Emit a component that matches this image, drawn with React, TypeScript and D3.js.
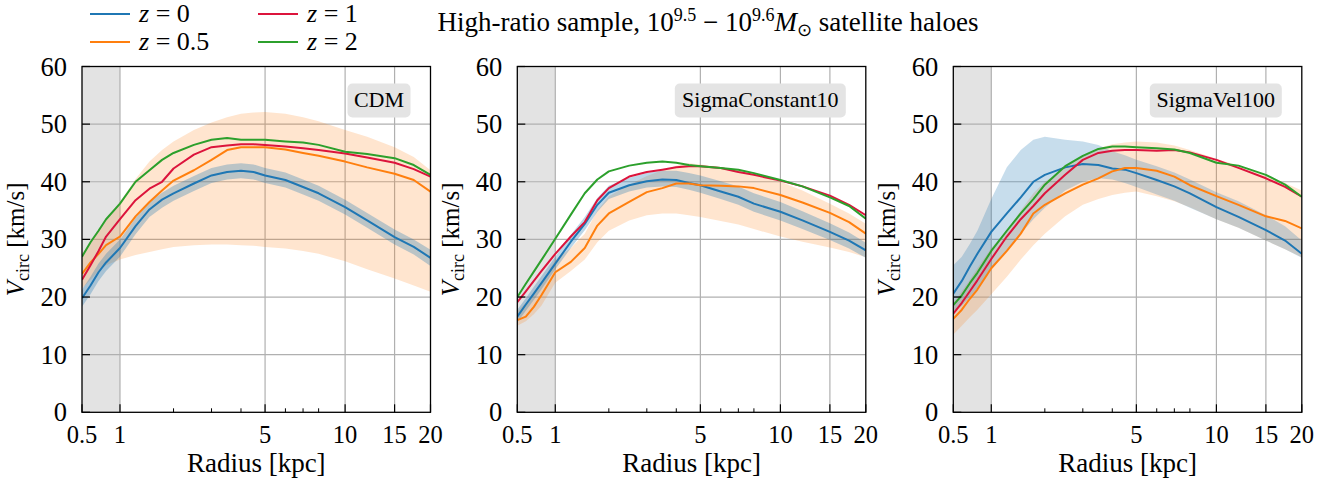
import React from 'react';
import * as d3 from 'd3';

// ---------- data ----------
const RADII = [0.5, 0.6, 0.7, 0.8, 1, 1.25, 1.5, 1.75, 2, 2.5, 3, 3.5, 4, 4.5, 5, 6, 7, 8, 10, 12, 15, 17.5, 20];
const X_MAJOR = [0.5, 1, 5, 10, 15, 20];
const X_MINOR = [2, 3, 4, 6, 7, 8];
const X_GRID = [1, 5, 10, 15];
const Y_TICKS = [0, 10, 20, 30, 40, 50, 60];
const Y_GRID = [10, 20, 30, 40, 50];
const RESOLUTION_LIMIT = 1;

const LEGEND_LABELS = ['0', '0.5', '1', '2'];

// CDM
const CDM_Z0 = [19.8, 22, 24.3, 26, 28.5, 32.3, 35.2, 36.9, 38, 39.7, 41.1, 41.7, 41.9, 41.7, 41.1, 40.3, 39.1, 38, 35.6, 33.3, 30.4, 28.7, 26.8];
const CDM_Z05 = [24, 26, 27.5, 29, 30.5, 34, 36.5, 38.5, 40.2, 42, 43.8, 45.5, 46, 46, 46, 45.6, 45, 44.5, 43.5, 42.5, 41.4, 40.3, 38.3];
const CDM_Z1 = [23, 25.5, 28, 30.5, 33.5, 36.8, 38.8, 40, 42.3, 44.7, 46, 46.3, 46.5, 46.5, 46.4, 46.1, 45.8, 45.5, 44.9, 44.2, 43.3, 42.2, 40.9];
const CDM_Z2 = [27, 29.5, 31.5, 33.5, 36.2, 40, 42, 43.8, 45, 46.4, 47.3, 47.6, 47.3, 47.3, 47.3, 47, 46.8, 46.4, 45.2, 44.8, 44.1, 42.9, 41.2];
const CDM_Z0_HI = [21.3, 23.5, 25.8, 27.5, 30, 33.7, 36.5, 38.1, 39.3, 41, 42.4, 43, 43.2, 43, 42.4, 41.6, 40.4, 39.3, 36.9, 34.6, 31.7, 30, 28.2];
const CDM_Z0_LO = [18.3, 20.5, 22.8, 24.5, 27, 30.9, 33.9, 35.5, 36.7, 38.4, 39.8, 40.4, 40.6, 40.4, 39.8, 39, 37.8, 36.7, 34.3, 32, 29.1, 27.4, 25.4];
const CDM_Z05_HI = [27.5, 29.5, 31.5, 33.5, 36.5, 40.5, 43.5, 45.5, 47, 49, 50.3, 51.2, 51.8, 52, 52.1, 51.8, 51.2, 50.5, 49, 47.8, 46, 44.3, 42];
const CDM_Z05_LO = [21.5, 23, 24.5, 25.5, 26.5, 27.3, 27.8, 28.3, 28.7, 29, 29.1, 29.1, 29, 28.9, 28.7, 28.4, 28, 27.5, 26.2, 24.8, 23.2, 22, 20.9];

// SigmaConstant10
const SC_Z0 = [16.6, 18.7, 20.6, 22.4, 25.8, 29.6, 32.7, 36, 38.1, 39.4, 40.1, 40.4, 40.3, 39.8, 39.4, 38.3, 37.4, 36.2, 34.8, 33.3, 31.3, 29.8, 28.1];
const SC_Z05 = [16, 16.6, 18.3, 20.3, 24.3, 26.1, 28.5, 32.4, 34.5, 36.5, 38.2, 38.9, 39.7, 39.7, 39.4, 39.3, 39.2, 38.9, 37.7, 36.4, 34.6, 33, 31];
const SC_Z1 = [19.1, 21, 22.8, 24.5, 27.5, 30.5, 33, 36.8, 38.9, 40.9, 41.7, 42.1, 42.5, 42.7, 42.7, 42.4, 41.7, 41.2, 40.2, 39.2, 37.6, 36, 34.2];
const SC_Z2 = [20, 22.3, 24.4, 26.4, 30.1, 34.3, 38, 40.4, 41.8, 42.8, 43.3, 43.5, 43.3, 42.9, 42.7, 42.4, 42.1, 41.5, 40.3, 39.2, 37.3, 35.8, 33.6];
const SC_Z0_HI = [17.8, 19.8, 21.8, 23.6, 27, 30.8, 33.9, 37.2, 39.3, 40.7, 41.5, 41.9, 41.9, 41.5, 41.1, 40.1, 39.2, 38, 36.5, 34.9, 32.8, 31.2, 29.4];
const SC_Z0_LO = [15.6, 17.6, 19.5, 21.3, 24.8, 28.5, 31.6, 34.8, 37, 38.3, 39, 39.2, 39.1, 38.6, 38.1, 37, 36, 34.8, 33.3, 31.8, 29.9, 28.4, 26.8];
const SC_Z05_HI = [17.5, 19, 20.5, 22.5, 26.5, 28.5, 31, 35, 37.5, 39.5, 41, 42, 42.8, 43.2, 43, 42.5, 42, 41.3, 40, 38.5, 36.2, 34.5, 32.7];
const SC_Z05_LO = [15, 15.8, 17, 18.5, 22.5, 24.5, 26.5, 29.5, 31.5, 33.3, 34.2, 34.5, 34.5, 34.2, 33.9, 33.2, 32.6, 31.8, 30.5, 29.6, 28.6, 27.8, 26.9];

// SigmaVel100
const SV_Z0 = [20.6, 22.8, 25.3, 27.5, 31.3, 34.5, 37.3, 40, 41.2, 42.5, 43.1, 42.9, 42.3, 42.1, 41.5, 40.3, 39.2, 38, 35.6, 33.9, 31.6, 29.8, 27.5];
const SV_Z05 = [16.2, 17.8, 19.7, 21.3, 25, 28, 31, 34.5, 36, 38, 39.5, 40.6, 41.8, 42.4, 42.4, 41.9, 40.9, 39.4, 37.5, 36, 34, 33.2, 31.9];
const SV_Z1 = [17.1, 19, 21, 22.9, 26.6, 30.5, 33.5, 35.8, 38, 41.2, 43.8, 45, 45.4, 45.5, 45.5, 45.4, 45.5, 45.1, 43.8, 42.4, 40.6, 39.1, 37.4];
const SV_Z2 = [18.6, 20.3, 22.4, 24.2, 28, 31.5, 34.5, 37, 39.5, 42.7, 44.5, 45.7, 46.1, 46.1, 46, 45.8, 45.6, 45, 43.3, 42.8, 41.2, 39.5, 37.4];
const SV_Z0_HI = [25.5, 27, 29.2, 31.5, 37, 42.5, 45.5, 47.3, 47.8, 47.3, 47, 46.4, 45.3, 44.6, 43.8, 42.7, 41.6, 40.4, 38.2, 36.6, 34.2, 32.3, 29.8];
const SV_Z0_LO = [17.5, 18.5, 20, 21.5, 25, 28, 31, 33.5, 35.5, 38.5, 40, 40.6, 40.4, 39.8, 39.1, 37.8, 36.7, 35.5, 33.5, 32, 29.8, 28.3, 26.8];
const SV_Z05_HI = [19, 21, 23, 25, 28.5, 31.5, 35, 38, 40, 42.5, 44.5, 45.8, 46.5, 46.8, 47, 46.8, 46.3, 45.5, 44, 42.8, 41, 39.8, 38.5];
const SV_Z05_LO = [13.5, 15, 16.5, 17.8, 20.5, 23.5, 26.5, 29, 31, 34, 36, 37, 37.7, 38.1, 38.3, 37.5, 36.6, 35.6, 33.5, 32, 29.8, 28.3, 26.9];

const COLORS = ['#1f77b4', '#ff7f0e', '#dc143c', '#2ca02c'];

const PANELS = [
  { name: 'CDM', left: 82, boxW: 63, lines: [CDM_Z0, CDM_Z05, CDM_Z1, CDM_Z2], z0Band: [CDM_Z0_LO, CDM_Z0_HI], z05Band: [CDM_Z05_LO, CDM_Z05_HI], z0Alpha: 0.3 },
  { name: 'SigmaConstant10', left: 517.3, boxW: 171, lines: [SC_Z0, SC_Z05, SC_Z1, SC_Z2], z0Band: [SC_Z0_LO, SC_Z0_HI], z05Band: [SC_Z05_LO, SC_Z05_HI], z0Alpha: 0.3 },
  { name: 'SigmaVel100', left: 953.3, boxW: 132, lines: [SV_Z0, SV_Z05, SV_Z1, SV_Z2], z0Band: [SV_Z0_LO, SV_Z0_HI], z05Band: [SV_Z05_LO, SV_Z05_HI], z0Alpha: 0.25 },
];

const PW = 348.5;
const TOP = 66.5;
const BOTTOM = 412.3;
const FONT = 'Liberation Serif';
const FS = 26;
const T = (size: number, extra: any = {}) => ({ fontFamily: FONT, fontSize: size + 'px', ...extra });

function Panel({ p }: { p: any }) {
  const sx = d3.scaleLog().domain([1.5, 21]).range([p.left, p.left + PW]);
  const x = (r: number) => sx(1 + r);
  const y = d3.scaleLinear().domain([0, 60]).range([BOTTOM, TOP]);
  const idx = d3.range(RADII.length);
  const line = (vals: number[]) =>
    d3.line<number>().x((i) => x(RADII[i])).y((i) => y(vals[i]))(idx) || '';
  const area = (lo: number[], hi: number[]) =>
    d3.area<number>().x((i) => x(RADII[i])).y0((i) => y(lo[i])).y1((i) => y(hi[i]))(idx) || '';
  const x0 = p.left, x1 = p.left + PW;
  const cx = (x0 + x1) / 2;
  const cy = (TOP + BOTTOM) / 2;
  const clipId = 'clip-' + p.name;
  return (
    <g>
      <defs>
        <clipPath id={clipId}>
          <rect x={x0} y={TOP} width={PW} height={BOTTOM - TOP} />
        </clipPath>
      </defs>
      <rect x={x0} y={TOP} width={x(RESOLUTION_LIMIT) - x0} height={BOTTOM - TOP} fill="#e3e3e3" />
      {X_GRID.map((t) => (
        <line key={'gx' + t} x1={x(t)} x2={x(t)} y1={TOP} y2={BOTTOM} stroke="#b0b0b0" strokeWidth={1.2} />
      ))}
      {Y_GRID.map((t) => (
        <line key={'gy' + t} x1={x0} x2={x1} y1={y(t)} y2={y(t)} stroke="#b0b0b0" strokeWidth={1.2} />
      ))}
      <g clipPath={`url(#${clipId})`}>
        <path d={area(p.z05Band[0], p.z05Band[1])} fill={COLORS[1]} fillOpacity={0.2} />
        <path d={area(p.z0Band[0], p.z0Band[1])} fill={COLORS[0]} fillOpacity={p.z0Alpha} />
        {p.lines.map((vals: number[], k: number) => (
          <path key={k} d={line(vals)} fill="none" stroke={COLORS[k]} strokeWidth={2} strokeLinejoin="round" />
        ))}
      </g>
      {/* label box */}
      <rect x={x1 - 20 - p.boxW} y={83.5} width={p.boxW} height={34} rx={5} fill="#e4e4e4" />
      <text x={x1 - 20 - p.boxW / 2} y={107} textAnchor="middle" style={T(22)}>{p.name}</text>
      {/* spines */}
      <rect x={x0} y={TOP} width={PW} height={BOTTOM - TOP} fill="none" stroke="#000" strokeWidth={1.3} />
      {/* x ticks */}
      {X_MAJOR.map((t) => (
        <g key={'xm' + t}>
          <line x1={x(t)} x2={x(t)} y1={BOTTOM} y2={BOTTOM - 8} stroke="#000" strokeWidth={1.2} />
          <text x={x(t)} y={443} textAnchor="middle" style={T(24.5)}>{t}</text>
        </g>
      ))}
      {X_MINOR.map((t) => (
        <line key={'xn' + t} x1={x(t)} x2={x(t)} y1={BOTTOM} y2={BOTTOM - 4} stroke="#000" strokeWidth={1} />
      ))}
      {Y_TICKS.map((t) => (
        <g key={'yt' + t}>
          <line x1={x0} x2={x0 + 8} y1={y(t)} y2={y(t)} stroke="#000" strokeWidth={1.2} />
          <text x={x0 - 15} y={y(t) + 9} textAnchor="end" style={T(26.5)}>{t}</text>
        </g>
      ))}
      <text x={cx} y={472} textAnchor="middle" style={T(27)}>Radius [kpc]</text>
      <text transform={`translate(${x0 - 58},${cy}) rotate(-90)`} textAnchor="middle" style={T(25)}>
        <tspan style={{ fontStyle: 'italic' }}>V</tspan>
        <tspan style={{ fontSize: '18px' }} dy={5}>circ</tspan>
        <tspan dy={-5}> [km/s]</tspan>
      </text>
    </g>
  );
}

function Legend() {
  const items = LEGEND_LABELS.map((lab, i) => {
    const col = i === 0 || i === 1 ? 0 : 1;
    const row = i === 0 || i === 2 ? 0 : 1;
    return { lab, color: COLORS[i], col, row };
  });
  return (
    <g>
      {items.map((it) => {
        const lx = 90 + it.col * 168;
        const ly = 14 + it.row * 28;
        return (
          <g key={it.lab}>
            <line x1={lx} x2={lx + 40} y1={ly} y2={ly} stroke={it.color} strokeWidth={2} />
            <text x={lx + 49} y={ly + 8} style={T(FS)}>
              <tspan style={{ fontStyle: 'italic' }}>z</tspan>
              <tspan> = {it.lab}</tspan>
            </text>
          </g>
        );
      })}
    </g>
  );
}

export default function App() {
  return (
    <svg width={1328} height={483} style={{ position: 'absolute', left: 0, top: 0, background: '#fff', fontFamily: FONT }}>
      <rect width={1328} height={483} fill="#fff" />
      <Legend />
      <text x={708} y={31} textAnchor="middle" style={T(27)}>
        <tspan>High-ratio sample, 10</tspan>
        <tspan style={{ fontSize: '18px' }} dy={-10}>9.5</tspan>
        <tspan dy={10}> − 10</tspan>
        <tspan style={{ fontSize: '18px' }} dy={-10}>9.6</tspan>
        <tspan dy={10} style={{ fontStyle: 'italic' }}>M</tspan>
        <tspan style={{ fontSize: '18px' }} dy={5}>⊙</tspan>
        <tspan dy={-5}> satellite haloes</tspan>
      </text>
      {PANELS.map((p) => (
        <Panel key={p.name} p={p} />
      ))}
    </svg>
  );
}
